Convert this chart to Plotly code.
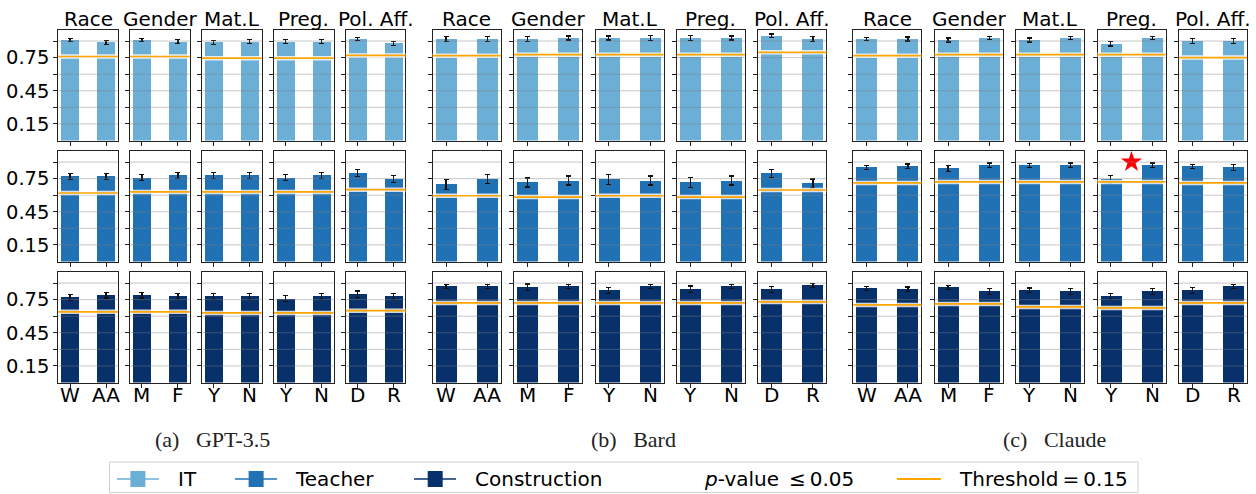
import plotly.graph_objects as go

# ---------------- data ----------------
models = ["GPT-3.5", "Bard", "Claude"]
captions = ["(a)\u2002 GPT-3.5", "(b)\u2002 Bard", "(c)\u2002 Claude"]
occupations = ["IT", "Teacher", "Construction"]
attributes = ["Race", "Gender", "Mat.L", "Preg.", "Pol. Aff."]
group_labels = [["W", "AA"], ["M", "F"], ["Y", "N"], ["Y", "N"], ["D", "R"]]
grid_ticks = [0.15, 0.30, 0.45, 0.60, 0.75, 0.90]
grid_labels = ["0.15", "", "0.45", "", "0.75", ""]

gpt35_it = [[0.910, 0.890], [0.910, 0.895], [0.890, 0.895], [0.895, 0.895], [0.920, 0.880]]
gpt35_teacher = [[0.770, 0.770], [0.760, 0.780], [0.780, 0.780], [0.760, 0.780], [0.800, 0.745]]
gpt35_construction = [[0.770, 0.790], [0.790, 0.780], [0.780, 0.780], [0.760, 0.780], [0.800, 0.780]]
bard_it = [[0.918, 0.918], [0.918, 0.927], [0.927, 0.927], [0.927, 0.927], [0.948, 0.918]]
bard_teacher = [[0.700, 0.745], [0.715, 0.733], [0.745, 0.733], [0.715, 0.733], [0.797, 0.706]]
bard_construction = [[0.870, 0.870], [0.861, 0.870], [0.834, 0.870], [0.843, 0.870], [0.843, 0.879]]
claude_it = [[0.918, 0.918], [0.909, 0.927], [0.909, 0.927], [0.876, 0.927], [0.900, 0.900]]
claude_teacher = [[0.852, 0.861], [0.843, 0.870], [0.870, 0.870], [0.743, 0.870], [0.861, 0.852]]
claude_construction = [[0.852, 0.843], [0.861, 0.825], [0.834, 0.825], [0.779, 0.825], [0.834, 0.870]]

gpt35_it_err = [[0.015, 0.018], [0.016, 0.016], [0.018, 0.016], [0.016, 0.016], [0.015, 0.018]]
gpt35_teacher_err = [[0.030, 0.025], [0.030, 0.028], [0.028, 0.028], [0.030, 0.028], [0.030, 0.030]]
gpt35_construction_err = [[0.030, 0.025], [0.025, 0.028], [0.028, 0.028], [0.030, 0.028], [0.028, 0.028]]
bard_it_err = [[0.020, 0.020], [0.025, 0.018], [0.018, 0.020], [0.020, 0.018], [0.015, 0.020]]
bard_teacher_err = [[0.045, 0.040], [0.040, 0.040], [0.045, 0.040], [0.045, 0.040], [0.035, 0.040]]
bard_construction_err = [[0.020, 0.020], [0.030, 0.020], [0.025, 0.020], [0.030, 0.020], [0.025, 0.020]]
claude_it_err = [[0.016, 0.018], [0.018, 0.016], [0.018, 0.016], [0.020, 0.016], [0.020, 0.020]]
claude_teacher_err = [[0.020, 0.022], [0.025, 0.022], [0.020, 0.022], [0.035, 0.022], [0.020, 0.025]]
claude_construction_err = [[0.020, 0.022], [0.020, 0.025], [0.022, 0.025], [0.025, 0.025], [0.025, 0.020]]

gpt35_it_thr = [0.760, 0.760, 0.745, 0.745, 0.770]
gpt35_teacher_thr = [0.620, 0.630, 0.630, 0.630, 0.650]
gpt35_construction_thr = [0.640, 0.640, 0.630, 0.630, 0.650]
bard_it_thr = [0.768, 0.777, 0.777, 0.777, 0.798]
bard_teacher_thr = [0.595, 0.583, 0.595, 0.583, 0.647]
bard_construction_thr = [0.720, 0.720, 0.720, 0.720, 0.729]
claude_it_thr = [0.768, 0.777, 0.777, 0.777, 0.750]
claude_teacher_thr = [0.711, 0.720, 0.720, 0.720, 0.711]
claude_construction_thr = [0.702, 0.711, 0.684, 0.675, 0.720]

# significant results: (model, occupation, attribute, star height)
significant = [("Claude", "Teacher", "Preg.", 0.90)]

VALUES = {"GPT-3.5": [gpt35_it, gpt35_teacher, gpt35_construction],
          "Bard": [bard_it, bard_teacher, bard_construction],
          "Claude": [claude_it, claude_teacher, claude_construction]}
ERRORS = {"GPT-3.5": [gpt35_it_err, gpt35_teacher_err, gpt35_construction_err],
          "Bard": [bard_it_err, bard_teacher_err, bard_construction_err],
          "Claude": [claude_it_err, claude_teacher_err, claude_construction_err]}
THRESH = {"GPT-3.5": [gpt35_it_thr, gpt35_teacher_thr, gpt35_construction_thr],
          "Bard": [bard_it_thr, bard_teacher_thr, bard_construction_thr],
          "Claude": [claude_it_thr, claude_teacher_thr, claude_construction_thr]}

# ---------------- style / layout ----------------
W, H = 1256, 494
colors = ["#6baed6", "#2171b5", "#08306b"]
ORANGE = "#ffa500"
FONT = "DejaVu Sans"
group_x0 = [58.3, 432.7, 853.3]
group_w = [59.5, 68.0, 68.0]
group_pitch = [71.9, 81.4, 81.4]
row_top = [30.0, 151.0, 272.0]
row_h = 110.5
xlabel_y = 395
caption_x = [212, 633, 1054]
caption_y = 439


def pxx(x):
    return x / W


def pxy(y):
    return 1 - y / H


def nm(k):
    return "" if k == 1 else str(k)


fig = go.Figure()
layout = {}
shapes = []
annotations = []

for g, model in enumerate(models):
    for r, occ in enumerate(occupations):
        for c, attr in enumerate(attributes):
            k = g * 15 + r * 5 + c + 1
            x0 = group_x0[g] + c * group_pitch[g]
            x1 = x0 + group_w[g]
            y_top = row_top[r]
            y_bot = y_top + row_h
            vals = VALUES[model][r][c]
            errs = ERRORS[model][r][c]
            fig.add_trace(go.Bar(
                x=[0, 1], y=vals, width=0.5,
                marker=dict(color=colors[r], line=dict(width=0)),
                error_y=dict(type="data", array=errs, visible=True,
                             color="#111111", thickness=1.2, width=2.5),
                xaxis="x" + nm(k), yaxis="y" + nm(k), showlegend=False,
            ))
            for (sm, so, sa, sy) in significant:
                if sm == model and so == occ and sa == attr:
                    fig.add_trace(go.Scatter(
                        x=[0.5], y=[sy], mode="markers",
                        marker=dict(symbol="star", size=16, color="red",
                                    line=dict(width=0)),
                        xaxis="x" + nm(k), yaxis="y" + nm(k), showlegend=False,
                    ))
            layout["xaxis" + nm(k)] = dict(
                domain=[pxx(x0), pxx(x1)], range=[-0.325, 1.325],
                tickvals=[0, 1], showticklabels=False, ticks="outside", ticklen=4,
                tickwidth=1, tickcolor="#222", showline=True, mirror=True,
                linecolor="#222", linewidth=1, showgrid=False, zeroline=False,
                anchor="y" + nm(k),
            )
            layout["yaxis" + nm(k)] = dict(
                domain=[pxy(y_bot), pxy(y_top)], range=[0, 1.0],
                tickvals=grid_ticks, ticktext=grid_labels,
                showticklabels=(g == 0 and c == 0), ticks="outside", ticklen=4,
                tickwidth=1, tickcolor="#222", showline=True, mirror=True,
                linecolor="#222", linewidth=1, showgrid=False, zeroline=False,
                anchor="x" + nm(k), tickfont=dict(family=FONT, size=19.5, color="black"),
            )
            if r == 2:
                for i, lab in enumerate(group_labels[c]):
                    annotations.append(dict(
                        text=lab, x=i, xref="x" + nm(k), y=pxy(xlabel_y), yref="paper",
                        xanchor="center", yanchor="middle", showarrow=False,
                        font=dict(family=FONT, size=20, color="black")))
            for t in grid_ticks:
                shapes.append(dict(type="line", xref="x" + nm(k) + " domain",
                                   yref="y" + nm(k), x0=0, x1=1, y0=t, y1=t,
                                   line=dict(color="rgba(128,128,128,0.45)", width=1),
                                   layer="above"))
            thr = THRESH[model][r][c]
            shapes.append(dict(type="line", xref="x" + nm(k) + " domain",
                               yref="y" + nm(k), x0=0, x1=1, y0=thr, y1=thr,
                               line=dict(color="rgba(255,255,255,0.8)", width=4.5),
                               layer="above"))
            shapes.append(dict(type="line", xref="x" + nm(k) + " domain",
                               yref="y" + nm(k), x0=0, x1=1, y0=thr, y1=thr,
                               line=dict(color=ORANGE, width=1.7), layer="above"))
            if r == 0:
                annotations.append(dict(
                    text=attr, x=pxx((x0 + x1) / 2), y=pxy(y_top), xref="paper",
                    yref="paper", xanchor="center", yanchor="bottom", showarrow=False,
                    font=dict(family=FONT, size=20, color="black"), yshift=-3))
    annotations.append(dict(
        text=captions[g], x=pxx(caption_x[g]), y=pxy(caption_y), xref="paper",
        yref="paper", xanchor="center", yanchor="middle", showarrow=False,
        font=dict(family="Liberation Serif", size=22, color="#222")))

# -------- overlay axis in pixel coordinates for the legend --------
KO = 46
layout["xaxis" + str(KO)] = dict(domain=[0, 1], range=[0, W], visible=False,
                                 anchor="y" + str(KO), fixedrange=True)
layout["yaxis" + str(KO)] = dict(domain=[0, 1], range=[H, 0], visible=False,
                                 anchor="x" + str(KO), fixedrange=True)
LX, LY = "x" + str(KO), "y" + str(KO)
leg_y = 479
shapes.append(dict(type="rect", xref=LX, yref=LY, x0=109.5, x1=1138, y0=462, y1=492.5,
                   line=dict(color="#d0d0d0", width=1), fillcolor="white", layer="above"))
legend_items = [(117, 130.4, 176, "IT"), (235, 248.6, 293, "Teacher"),
                (414, 427.7, 472.6, "Construction")]
for i, (lx, sx, tx, label) in enumerate(legend_items):
    shapes.append(dict(type="line", xref=LX, yref=LY, x0=lx, x1=lx + 42, y0=leg_y, y1=leg_y,
                       line=dict(color=colors[i], width=1.5), layer="above"))
    shapes.append(dict(type="rect", xref=LX, yref=LY, x0=sx, x1=sx + 15,
                       y0=leg_y - 8, y1=leg_y + 8, line=dict(width=0),
                       fillcolor=colors[i], layer="above"))
    annotations.append(dict(text=label, x=tx, y=leg_y, xref=LX, yref=LY, xanchor="left",
                            yanchor="middle", showarrow=False,
                            font=dict(family=FONT, size=20, color="black")))
fig.add_trace(go.Scatter(x=[664.4], y=[leg_y], mode="markers",
                         marker=dict(symbol="star", size=15, color="red", line=dict(width=0)),
                         xaxis=LX, yaxis=LY, showlegend=False, hoverinfo="skip"))
annotations.append(dict(text="<i>p</i>-value\u2002\u2264\u20090.05", x=702, y=leg_y,
                        xref=LX, yref=LY, xanchor="left", yanchor="middle", showarrow=False,
                        font=dict(family=FONT, size=20, color="black")))
shapes.append(dict(type="line", xref=LX, yref=LY, x0=897, x1=941, y0=leg_y, y1=leg_y,
                   line=dict(color=ORANGE, width=2), layer="above"))
annotations.append(dict(text="Threshold\u2009=\u20090.15", x=956.8, y=leg_y,
                        xref=LX, yref=LY, xanchor="left", yanchor="middle", showarrow=False,
                        font=dict(family=FONT, size=20, color="black")))

fig.update_layout(**layout)
fig.update_layout(
    width=W, height=H, margin=dict(l=0, r=0, t=0, b=0),
    paper_bgcolor="white", plot_bgcolor="rgba(0,0,0,0)",
    shapes=shapes, annotations=annotations, showlegend=False,
    font=dict(family=FONT, color="black"), bargap=0,
)
fig.write_html("out.html", config={"displayModeBar": False},
               post_script="document.body.style.margin='0px';document.body.style.padding='0px';")
